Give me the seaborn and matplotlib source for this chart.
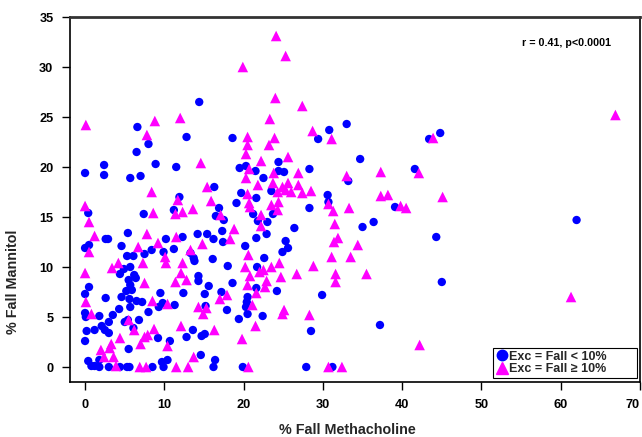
import matplotlib
matplotlib.use('Agg')
import matplotlib.pyplot as plt
import seaborn as sns
import pandas as pd
from matplotlib.lines import Line2D

# Exc = Fall < 10%  (blue circles)
low_x = [6.6, 14.4, 12.8, 18.6, 30.8, 33.0, 29.4, 44.8, 43.4,
         8.0, 6.5, 2.4, 8.9, 11.5, 0.0, 2.4, 5.7, 7.0, 11.9, 0.4, 7.4, 11.2, 5.4, 2.6, 2.9, 10.2,
         0.5, 0.0, 4.6, 7.5, 8.4, 9.9, 11.2, 5.3, 6.1,
         24.4, 19.5, 20.3, 21.5, 24.4, 25.1, 22.5, 16.3, 23.5, 19.7, 21.6, 19.1, 16.9, 16.5, 17.5,
         21.2, 23.7, 21.8, 23.0, 17.3, 15.4, 14.2, 12.3, 22.9, 21.6, 16.2, 17.4, 25.3, 20.2, 13.3,
         24.9, 25.6, 22.6, 16.1, 13.7,
         34.7, 28.3, 33.2, 41.6, 30.6, 30.7, 28.3, 39.1, 36.4, 26.4, 35.0, 44.3,
         4.9, 5.7, 4.4, 6.2, 5.5, 6.4, 5.7, 0.5, 5.2, 5.9, 9.5, 0.0, 2.6, 4.6, 5.6, 6.5, 7.2, 9.3,
         9.8, 11.3, 4.3, 5.7, 8.0, 0.0, 0.1, 1.8, 3.5, 3.0, 5.4, 5.0, 6.8, 2.1, 2.5, 0.2, 1.2, 3.0,
         6.1, 9.2, 10.7, 0.0, 5.5, 0.4, 1.8, 9.7, 10.4, 0.8, 1.2, 1.8, 3.0, 4.4, 5.3, 5.6, 8.5, 9.9,
         13.8, 18.0, 14.3, 14.3, 15.6, 18.6, 21.7, 12.4, 15.1, 17.2, 21.6, 20.5, 24.2, 20.4, 20.3,
         15.2, 17.9, 20.5, 22.4, 19.4, 13.6, 12.8, 14.7, 15.1, 14.6, 16.4, 16.2, 19.9,
         45.0, 29.9, 37.2, 28.5, 27.9, 31.2,
         62.0]
low_y = [24.0, 26.5, 23.0, 22.9, 23.7, 24.3, 22.8, 23.4, 22.8,
         22.3, 21.5, 20.2, 20.3, 20.0, 19.4, 19.2, 18.9, 19.1, 17.0, 15.4, 15.3, 15.7, 13.4, 12.8, 12.8, 12.8,
         12.2, 11.9, 12.1, 11.3, 11.7, 11.5, 11.8, 11.1, 11.1,
         20.5, 19.9, 20.1, 19.6, 19.6, 19.5, 18.9, 18.0, 17.6, 17.4, 16.9, 16.4, 15.9, 15.1, 14.7,
         15.3, 15.3, 14.6, 14.5, 13.6, 13.3, 13.3, 13.0, 13.3, 12.9, 12.8, 12.5, 12.6, 12.1, 11.4,
         11.5, 11.9, 10.9, 10.8, 10.9,
         20.8, 19.8, 18.6, 19.8, 17.2, 16.5, 15.9, 16.0, 14.5, 13.9, 14.0, 13.0,
         9.8, 10.0, 9.3, 9.2, 8.7, 8.9, 8.2, 8.0, 7.6, 7.7, 7.4, 7.3, 6.9, 7.0, 6.8, 6.6, 6.5, 6.0,
         6.4, 6.2, 5.8, 6.0, 5.5, 5.4, 5.0, 5.1, 5.2, 4.5, 4.7, 4.5, 4.7, 4.1, 3.7, 3.6, 3.7, 3.4,
         3.9, 2.9, 2.6, 2.6, 1.8, 0.6, 0.7, 0.5, 0.7, 0.1, 0.1, 0.0, 0.0, 0.0, 0.0, 0.0, 0.0, 0.0,
         10.6, 10.1, 9.1, 8.6, 8.1, 8.4, 10.0, 7.4, 7.3, 7.5, 7.9, 7.0, 7.6, 6.5, 6.0,
         6.1, 5.7, 5.3, 5.1, 4.8, 3.7, 3.0, 3.1, 3.3, 1.2, 0.7, 0.0, 0.0,
         8.5, 7.2, 4.2, 3.6, 0.0, 0.0,
         14.7]

# Exc = Fall >= 10%  (magenta triangles)
high_x = [0.1, 8.8, 12.0, 7.8, 24.1, 25.3, 19.9, 24.0, 23.3, 20.5, 23.9, 27.4, 28.7, 31.1, 43.9,
          8.4, 11.7, 0.0, 8.6, 11.4, 0.5, 7.8, 1.2, 11.5, 6.7, 9.2, 0.5, 10.1,
          20.5, 23.2, 20.3, 14.6, 22.2, 25.6, 20.7, 23.8, 20.3, 21.8, 15.4, 23.7, 24.9, 25.6, 24.3,
          25.3, 20.5, 15.9, 20.7, 24.4, 12.3, 13.6, 20.8, 23.5, 24.3, 17.1, 22.2, 22.2, 18.8, 18.3,
          14.8, 13.3, 20.6,
          26.9, 33.0, 37.3, 42.1, 26.9, 26.0, 27.4, 28.5, 30.7, 31.3, 33.3, 37.3, 38.2, 39.8, 40.5,
          45.1, 31.5, 31.9, 31.4, 34.4, 31.1, 33.5,
          0.0, 3.4, 4.2, 7.3, 10.2, 7.5, 11.4, 8.5, 10.4, 0.8, 5.5, 6.2, 8.7, 7.9, 7.5, 7.0, 10.4,
          4.4, 3.3, 3.1, 2.0, 2.4, 3.6, 3.9, 6.9, 7.7, 11.5, 0.1,
          12.3, 12.1, 12.8, 20.2, 20.8, 22.0, 22.5, 23.5, 24.5, 24.7, 22.9, 22.7, 17.9, 17.0, 20.5,
          21.6, 21.1, 14.3, 15.3, 14.9, 25.1, 24.9, 21.5, 12.1, 16.3, 19.8, 13.7, 13.0, 20.6,
          26.7, 28.8, 31.6, 31.6, 35.5, 28.3, 42.2, 30.7, 32.4,
          66.9, 61.3]
high_y = [24.2, 24.6, 24.9, 23.2, 33.1, 31.1, 30.0, 26.9, 24.8, 23.0, 22.9, 26.1, 23.6, 22.8, 22.9,
          17.5, 16.7, 16.1, 15.4, 15.3, 14.5, 13.3, 13.1, 13.0, 12.0, 12.4, 11.5, 11.0,
          22.2, 22.2, 21.3, 20.4, 20.6, 21.0, 19.8, 19.4, 18.9, 18.2, 18.0, 18.4, 18.0, 18.4, 17.5,
          17.7, 17.3, 16.6, 16.4, 16.5, 15.5, 15.8, 16.0, 16.2, 15.7, 15.2, 15.2, 14.1, 13.8, 12.8,
          12.3, 11.7, 11.2,
          19.4, 19.1, 19.5, 19.4, 18.2, 17.5, 17.4, 17.6, 16.3, 15.6, 15.9, 17.1, 17.2, 16.1, 15.9,
          17.0, 14.3, 12.9, 12.5, 12.2, 11.0, 11.0,
          9.4, 9.9, 10.4, 10.4, 10.4, 8.4, 8.5, 6.6, 6.3, 5.3, 4.7, 3.7, 3.8, 3.2, 3.0, 2.3, 2.1,
          2.9, 2.3, 1.9, 1.7, 1.0, 1.0, 0.1, 0.0, 0.0, 0.0, 6.5,
          10.4, 9.4, 8.7, 10.0, 9.1, 9.5, 9.7, 10.0, 10.4, 9.0, 8.6, 8.0, 7.2, 6.8, 8.2,
          7.4, 6.2, 6.0, 5.9, 5.3, 5.7, 5.3, 4.1, 4.1, 3.7, 2.8, 1.0, 0.0, 0.0,
          9.3, 10.1, 9.3, 8.5, 9.3, 5.2, 2.2, 0.0, 0.0,
          25.2, 7.0]

group_labels = ['Exc = Fall < 10%', 'Exc = Fall \u2265 10%']
x_ticks = [0, 10, 20, 30, 40, 50, 60, 70]
y_ticks = [0, 5, 10, 15, 20, 25, 30, 35]
x_label = '% Fall Methacholine'
y_label = '% Fall Mannitol'
annotation = 'r = 0.41, p<0.0001'

sns.set_theme(style='ticks')
plt.rcParams['font.family'] = ['Liberation Sans', 'DejaVu Sans']
plt.rcParams['font.weight'] = 'bold'

fig = plt.figure(figsize=(6.42, 4.37), dpi=100)
ax = fig.add_axes([70 / 642, 55 / 437, 570 / 642, 365 / 437])

df_low = pd.DataFrame({'x': low_x, 'y': low_y})
df_high = pd.DataFrame({'x': high_x, 'y': high_y})

sns.scatterplot(data=df_low, x='x', y='y', color='#0000FF', marker='o', s=36,
                edgecolor='none', linewidth=0, ax=ax, legend=False, zorder=3)
sns.scatterplot(data=df_high, x='x', y='y', color='#FF00FF', marker='^', s=58,
                edgecolor='none', linewidth=0, ax=ax, legend=False, zorder=3)

ax.set_xlim(-1.9, 70)
ax.set_ylim(-1.5, 35)
ax.set_xticks(x_ticks)
ax.set_yticks(y_ticks)
ax.tick_params(axis='both', direction='out', length=6, width=1, colors='black',
               labelsize=9.2, pad=6)
for lbl in ax.get_xticklabels() + ax.get_yticklabels():
    lbl.set_fontweight('bold')
ax.get_xticklabels()[-1].set_horizontalalignment('right')

for side in ['left', 'bottom', 'right', 'top']:
    ax.spines[side].set_color('black')
    ax.spines[side].set_linewidth(1.2)
ax.spines['top'].set_linewidth(2.0)
ax.spines['top'].set_color('#333333')

ax.set_xlabel(x_label, fontsize=10.3, fontweight='bold')
ax.set_ylabel(y_label, fontsize=10.3, fontweight='bold')
ax.xaxis.set_label_coords(0.486, -0.112)
ax.yaxis.set_label_coords(-0.088, 0.275)

ax.text(0.949, 0.929, annotation, transform=ax.transAxes, ha='right', va='center',
        fontsize=7.7, fontweight='bold', color='black')

handles = [Line2D([0], [0], marker='o', linestyle='none', color='#0000FF', markersize=7.5),
           Line2D([0], [0], marker='^', linestyle='none', color='#FF00FF', markersize=8.5)]
leg = ax.legend(handles, group_labels, loc='lower left',
                bbox_to_anchor=(0.742, 0.011, 0.2526, 0.088), mode='expand',
                frameon=True, fancybox=False,
                edgecolor='black', framealpha=1, borderpad=0.2, handletextpad=0.1,
                labelspacing=0.05, handlelength=1.0, borderaxespad=0.0,
                prop={'weight': 'bold', 'size': 9})
leg.get_frame().set_linewidth(0.8)

fig.savefig('out.png', dpi=100)
